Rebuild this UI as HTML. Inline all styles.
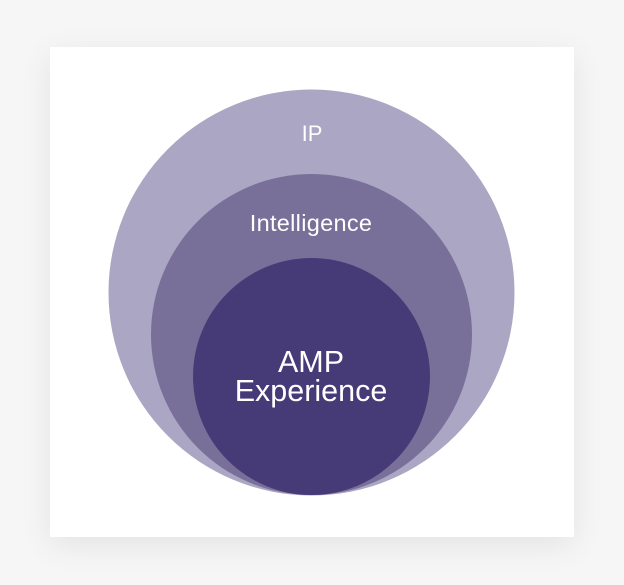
<!DOCTYPE html>
<html><head><style>
html,body{margin:0;padding:0;background:#f6f6f6;}
body{width:624px;height:585px;position:relative;overflow:hidden;font-family:"Liberation Sans",sans-serif;}
.card{position:absolute;left:50px;top:47px;width:524px;height:490px;background:#fff;box-shadow:0 8px 30px rgba(0,0,0,0.08);}
svg{position:absolute;left:0;top:0;}
</style></head><body>
<div class="card"></div>
<svg width="624" height="585" viewBox="0 0 624 585">
<circle cx="311.5" cy="292.5" r="203" fill="#aaa6c3"/>
<circle cx="311.5" cy="334.5" r="160.5" fill="#787099"/>
<circle cx="311.5" cy="376.5" r="118.5" fill="#463a77"/>
<g fill="#fff" text-anchor="middle" font-family="Liberation Sans, sans-serif">
<text x="312" y="141" font-size="22">IP</text>
<text x="311" y="231" font-size="23.5" letter-spacing="0.3">Intelligence</text>
<text x="311" y="372" font-size="30.5">AMP</text>
<text x="311" y="401" font-size="30.5">Experience</text>
</g>
</svg>
</body></html>
